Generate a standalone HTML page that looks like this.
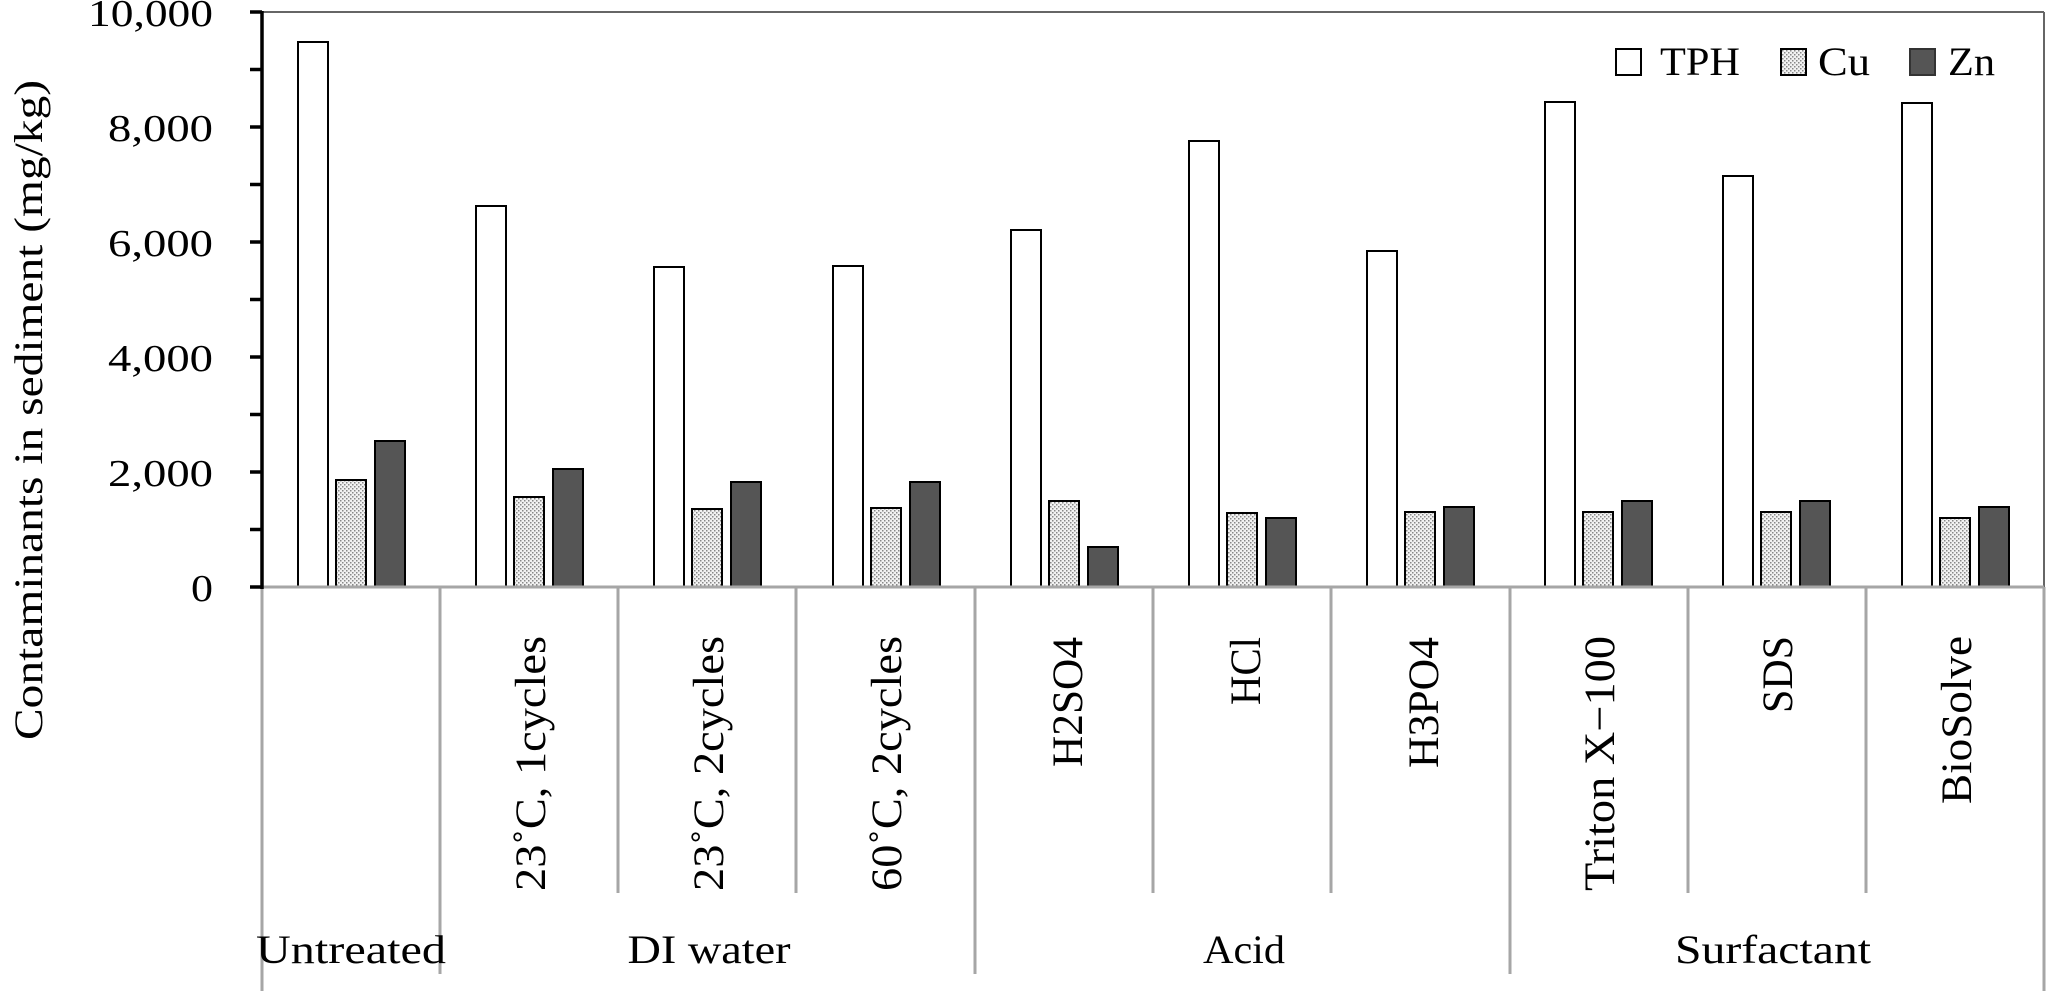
<!DOCTYPE html>
<html><head><meta charset="utf-8"><style>
html,body{margin:0;padding:0;background:#fff;}
svg{display:block;font-family:"Liberation Serif","Noto Serif CJK SC",serif;}
</style></head><body>
<svg width="2047" height="992" viewBox="0 0 2047 992" xmlns="http://www.w3.org/2000/svg">
<defs>
<pattern id="dots" width="4" height="4" patternUnits="userSpaceOnUse">
<rect width="4" height="4" fill="#f2f2f2"/>
<rect x="0" y="0" width="1.5" height="1.5" fill="#888"/>
<rect x="2" y="2" width="1.5" height="1.5" fill="#888"/>
</pattern>
</defs>
<line x1="262" y1="12" x2="2044" y2="12" stroke="#666" stroke-width="2"/>
<line x1="2044" y1="12" x2="2044" y2="587" stroke="#666" stroke-width="2"/>
<g stroke="#a6a6a6" stroke-width="3">
<line x1="2044" y1="587" x2="2044" y2="991"/>
<line x1="440" y1="587" x2="440" y2="974"/>
<line x1="975" y1="587" x2="975" y2="974"/>
<line x1="1510" y1="587" x2="1510" y2="974"/>
<line x1="618" y1="587" x2="618" y2="893"/>
<line x1="796" y1="587" x2="796" y2="893"/>
<line x1="1153" y1="587" x2="1153" y2="893"/>
<line x1="1331" y1="587" x2="1331" y2="893"/>
<line x1="1688" y1="587" x2="1688" y2="893"/>
<line x1="1866" y1="587" x2="1866" y2="893"/>
<line x1="262" y1="587" x2="262" y2="991"/>
</g>
<g stroke="#000" stroke-width="2">
<rect x="298" y="42" width="30" height="545" fill="#fff"/>
<rect x="336" y="480" width="30" height="107" fill="url(#dots)"/>
<rect x="375" y="441" width="30" height="146" fill="#555"/>

<rect x="476" y="206" width="30" height="381" fill="#fff"/>
<rect x="514" y="497" width="30" height="90" fill="url(#dots)"/>
<rect x="553" y="469" width="30" height="118" fill="#555"/>

<rect x="654" y="267" width="30" height="320" fill="#fff"/>
<rect x="692" y="509" width="30" height="78" fill="url(#dots)"/>
<rect x="731" y="482" width="30" height="105" fill="#555"/>

<rect x="833" y="266" width="30" height="321" fill="#fff"/>
<rect x="871" y="508" width="30" height="79" fill="url(#dots)"/>
<rect x="910" y="482" width="30" height="105" fill="#555"/>

<rect x="1011" y="230" width="30" height="357" fill="#fff"/>
<rect x="1049" y="501" width="30" height="86" fill="url(#dots)"/>
<rect x="1088" y="547" width="30" height="40" fill="#555"/>

<rect x="1189" y="141" width="30" height="446" fill="#fff"/>
<rect x="1227" y="513" width="30" height="74" fill="url(#dots)"/>
<rect x="1266" y="518" width="30" height="69" fill="#555"/>

<rect x="1367" y="251" width="30" height="336" fill="#fff"/>
<rect x="1405" y="512" width="30" height="75" fill="url(#dots)"/>
<rect x="1444" y="507" width="30" height="80" fill="#555"/>

<rect x="1545" y="102" width="30" height="485" fill="#fff"/>
<rect x="1583" y="512" width="30" height="75" fill="url(#dots)"/>
<rect x="1622" y="501" width="30" height="86" fill="#555"/>

<rect x="1723" y="176" width="30" height="411" fill="#fff"/>
<rect x="1761" y="512" width="30" height="75" fill="url(#dots)"/>
<rect x="1800" y="501" width="30" height="86" fill="#555"/>

<rect x="1902" y="103" width="30" height="484" fill="#fff"/>
<rect x="1940" y="518" width="30" height="69" fill="url(#dots)"/>
<rect x="1979" y="507" width="30" height="80" fill="#555"/>
</g>
<line x1="262" y1="587" x2="2044" y2="587" stroke="#a6a6a6" stroke-width="3"/>
<line x1="262" y1="11" x2="262" y2="589" stroke="#000" stroke-width="3.5"/>
<g stroke="#000" stroke-width="3.5">
<line x1="250" y1="12" x2="262" y2="12"/>
<line x1="250" y1="69.5" x2="262" y2="69.5"/>
<line x1="250" y1="127" x2="262" y2="127"/>
<line x1="250" y1="184.5" x2="262" y2="184.5"/>
<line x1="250" y1="242" x2="262" y2="242"/>
<line x1="250" y1="299.5" x2="262" y2="299.5"/>
<line x1="250" y1="357" x2="262" y2="357"/>
<line x1="250" y1="414.5" x2="262" y2="414.5"/>
<line x1="250" y1="472" x2="262" y2="472"/>
<line x1="250" y1="529.5" x2="262" y2="529.5"/>
<line x1="250" y1="587" x2="262" y2="587"/>
</g>
<g font-size="38" text-anchor="end" fill="#000">
<text x="213" y="26" textLength="125" lengthAdjust="spacingAndGlyphs">10,000</text>
<text x="213" y="141" textLength="105" lengthAdjust="spacingAndGlyphs">8,000</text>
<text x="213" y="256" textLength="105" lengthAdjust="spacingAndGlyphs">6,000</text>
<text x="213" y="371" textLength="105" lengthAdjust="spacingAndGlyphs">4,000</text>
<text x="213" y="486" textLength="105" lengthAdjust="spacingAndGlyphs">2,000</text>
<text x="213" y="601" textLength="22" lengthAdjust="spacingAndGlyphs">0</text>
</g>
<text transform="translate(42,410) rotate(-90)" font-size="40" text-anchor="middle" textLength="660" lengthAdjust="spacingAndGlyphs">Contaminants in sediment (mg/kg)</text>
<rect x="1616" y="49" width="25" height="26" fill="#fff" stroke="#000" stroke-width="2"/>
<text x="1660" y="75" font-size="40" textLength="80" lengthAdjust="spacingAndGlyphs">TPH</text>
<rect x="1781" y="49" width="25" height="26" fill="url(#dots)" stroke="#000" stroke-width="2"/>
<text x="1818" y="75" font-size="40" textLength="52" lengthAdjust="spacingAndGlyphs">Cu</text>
<rect x="1910" y="49" width="25" height="26" fill="#555" stroke="#333" stroke-width="2"/>
<text x="1948" y="75" font-size="40" textLength="47" lengthAdjust="spacingAndGlyphs">Zn</text>
<g font-size="43" text-anchor="end">
<text transform="translate(545,636) rotate(-90)" textLength="255" lengthAdjust="spacingAndGlyphs">23˚C, 1cycles</text>
<text transform="translate(723,636) rotate(-90)" textLength="255" lengthAdjust="spacingAndGlyphs">23˚C, 2cycles</text>
<text transform="translate(901,636) rotate(-90)" textLength="255" lengthAdjust="spacingAndGlyphs">60˚C, 2cycles</text>
<text transform="translate(1082,637) rotate(-90)" textLength="130" lengthAdjust="spacingAndGlyphs">H2SO4</text>
<text transform="translate(1260,637) rotate(-90)" textLength="68" lengthAdjust="spacingAndGlyphs">HCl</text>
<text transform="translate(1438,637) rotate(-90)" textLength="131" lengthAdjust="spacingAndGlyphs">H3PO4</text>
<text transform="translate(1614,636) rotate(-90)" textLength="255" lengthAdjust="spacingAndGlyphs">Triton X−100</text>
<text transform="translate(1792,636) rotate(-90)" textLength="77" lengthAdjust="spacingAndGlyphs">SDS</text>
<text transform="translate(1971,636) rotate(-90)" textLength="168" lengthAdjust="spacingAndGlyphs">BioSolve</text>
</g>
<g font-size="40" text-anchor="middle">
<text x="351" y="963" textLength="190" lengthAdjust="spacingAndGlyphs">Untreated</text>
<text x="709" y="963" textLength="163" lengthAdjust="spacingAndGlyphs">DI water</text>
<text x="1244" y="963" textLength="82" lengthAdjust="spacingAndGlyphs">Acid</text>
<text x="1773" y="963" textLength="196" lengthAdjust="spacingAndGlyphs">Surfactant</text>
</g>
</svg>
</body></html>
